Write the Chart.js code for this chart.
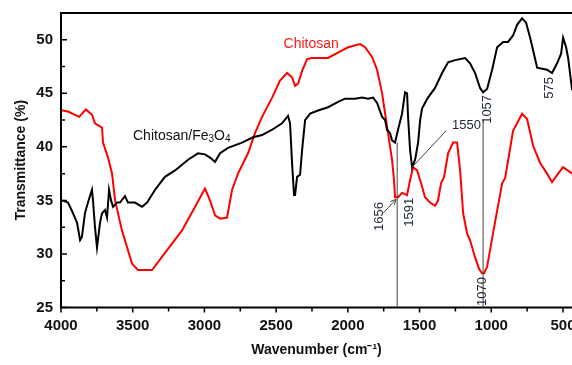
<!DOCTYPE html>
<html>
<head>
<meta charset="utf-8">
<script src="https://cdn.jsdelivr.net/npm/chart.js@4.4.0/dist/chart.umd.min.js"></script>
<style>
    html, body { margin: 0; padding: 0; background: #fff; }
</style>
</head>
<body>
<canvas id="ftirChart" width="572" height="365"></canvas>
<script>
"use strict";

// FTIR spectra (wavenumber in cm-1, transmittance in %)
const chitosanWn = [4000, 3993, 3951, 3874, 3826, 3784, 3763, 3714, 3707, 3672, 3644, 3623, 3575, 3505, 3463, 3365, 3275, 3156, 3065, 2996,
    2961, 2926, 2891, 2842, 2807, 2766, 2696, 2647, 2598, 2528, 2473, 2424, 2389, 2368, 2347, 2319, 2284, 2250, 2138, 2040,
    1998, 1915, 1880, 1831, 1796, 1761, 1740, 1720, 1692, 1678, 1671, 1650, 1622, 1587, 1566, 1545, 1517, 1489, 1462, 1427,
    1392, 1371, 1350, 1329, 1301, 1266, 1238, 1217, 1196, 1168, 1148, 1113, 1085, 1064, 1050, 1029, 980, 924, 903, 848,
    785, 750, 708, 659, 611, 576, 534, 499, 436];
const chitosanT = [43.6, 43.4, 43.3, 42.8, 43.5, 43.0, 42.2, 41.8, 40.4, 39.0, 37.5, 35.0, 32.2, 29.1, 28.5, 28.5, 30.1, 32.2, 34.4, 36.1,
    35.0, 33.6, 33.3, 33.4, 36.0, 37.5, 39.4, 41.3, 42.8, 44.6, 46.2, 46.9, 46.5, 45.7, 45.9, 47.1, 48.2, 48.3, 48.3, 49.0,
    49.3, 49.6, 49.3, 48.4, 47.2, 45.0, 43.1, 41.3, 38.8, 36.9, 35.3, 35.3, 35.7, 35.5, 36.9, 38.1, 37.8, 36.6, 35.3, 34.8,
    34.5, 35.0, 36.6, 37.2, 39.4, 40.4, 40.4, 37.8, 33.8, 31.9, 31.3, 29.7, 28.6, 28.2, 28.2, 28.8, 32.5, 36.6, 37.1, 41.5,
    43.1, 42.6, 40.1, 38.5, 37.5, 36.7, 37.5, 38.1, 37.5];

const compositeWn = [4000, 3993, 3951, 3916, 3888, 3867, 3854, 3833, 3812, 3784, 3777, 3763, 3749, 3728, 3714, 3693, 3679, 3665, 3651, 3637,
    3609, 3589, 3554, 3533, 3484, 3435, 3400, 3344, 3275, 3205, 3114, 3045, 2996, 2961, 2926, 2891, 2835, 2738, 2661, 2598,
    2528, 2459, 2417, 2403, 2389, 2375, 2368, 2354, 2333, 2319, 2298, 2263, 2208, 2138, 2068, 2019, 1950, 1901, 1859, 1824,
    1796, 1761, 1740, 1727, 1706, 1692, 1671, 1650, 1622, 1601, 1587, 1580, 1566, 1552, 1531, 1510, 1496, 1482, 1462, 1441,
    1392, 1343, 1301, 1252, 1182, 1148, 1113, 1078, 1057, 1029, 994, 959, 917, 883, 848, 820, 785, 757, 729, 708,
    680, 645, 611, 576, 541, 513, 499, 478, 464, 436];
const compositeT = [35.0, 35.0, 34.8, 33.8, 32.9, 31.3, 31.6, 33.8, 34.8, 36.0, 35.0, 32.5, 30.6, 32.9, 33.8, 34.1, 33.4, 36.0, 35.0, 34.4,
    34.8, 34.8, 35.4, 34.8, 34.8, 34.4, 34.8, 36.0, 37.2, 37.8, 38.8, 39.4, 39.3, 39.0, 38.6, 39.4, 39.9, 40.4, 40.9, 41.1,
    41.6, 42.2, 42.9, 42.2, 38.5, 35.5, 35.5, 37.2, 37.4, 39.7, 42.5, 43.1, 43.4, 43.7, 44.2, 44.5, 44.5, 44.6, 44.5, 44.6,
    44.1, 42.8, 42.5, 41.6, 41.3, 40.6, 40.4, 41.6, 43.1, 45.1, 45.0, 42.8, 39.7, 38.1, 38.8, 40.4, 42.5, 43.6, 44.1, 44.6,
    45.5, 46.9, 47.9, 48.1, 48.3, 47.8, 46.9, 45.5, 45.1, 45.4, 47.2, 49.3, 49.8, 49.8, 50.4, 51.4, 52.0, 51.6, 50.2, 49.0,
    47.4, 47.3, 47.2, 46.9, 47.8, 48.7, 50.2, 49.3, 48.3, 45.3];

const xTicks = [4000, 3500, 3000, 2500, 2000, 1500, 1000, 500];
const xMinorTicks = [3750, 3250, 2750, 2250, 1750, 1250, 750];
const yTicks = [25, 30, 35, 40, 45, 50];
const yMinorTicks = [27.5, 32.5, 37.5, 42.5, 47.5];

// peak labels: text, wavenumber, transmittance, rotated
const peakLabels = [
    ["1656", 1782, 33.5, true],
    ["1591", 1573, 33.9, true],
    ["1057", 1029, 43.5, true],
    ["1070", 1064, 26.5, true],
    ["575", 597, 45.5, true],
    ["1550", 1273, 42.0, false],
];
// marker lines: [wn1, t1, wn2, t2, arrowHead]
const peakLines = [
    [1656, 25, 1656, 40.4, false],
    [1057, 25, 1057, 42.4, false],
    [1552, 38.1, 1315, 41.5, false],
    [1754, 33.8, 1664, 35.1, true],
];

const ctx = document.getElementById("ftirChart");

function toXY(xs, ys) {
    return xs.map((x, i) => ({ x: x, y: ys[i] }));
}

const decorPlugin = {
    id: "decor",
    afterDatasetsDraw(chart) {
        const c = chart.ctx;
        const xs = chart.scales.x;
        const ys = chart.scales.y;
        const area = chart.chartArea;

        // frame
        c.save();
        c.strokeStyle = "#000";
        c.lineWidth = 2;
        c.beginPath();
        c.moveTo(area.left, area.top);
        c.lineTo(area.right, area.top);
        c.moveTo(area.left, area.top - 1);
        c.lineTo(area.left, area.bottom);
        c.lineTo(area.right, area.bottom);
        c.stroke();

        // x ticks point outward, y ticks inward
        c.lineWidth = 1.5;
        c.beginPath();
        xTicks.forEach((v) => {
            const px = xs.getPixelForValue(v);
            c.moveTo(px, area.bottom);
            c.lineTo(px, area.bottom + 5);
        });
        xMinorTicks.forEach((v) => {
            const px = xs.getPixelForValue(v);
            c.moveTo(px, area.bottom);
            c.lineTo(px, area.bottom + 4);
        });
        yTicks.forEach((v) => {
            const py = ys.getPixelForValue(v);
            c.moveTo(area.left, py);
            c.lineTo(area.left + 6, py);
        });
        yMinorTicks.forEach((v) => {
            const py = ys.getPixelForValue(v);
            c.moveTo(area.left, py);
            c.lineTo(area.left + 4, py);
        });
        c.stroke();

        // peak marker lines
        c.strokeStyle = "#444";
        c.fillStyle = "#444";
        c.lineWidth = 1;
        peakLines.forEach(([w1, t1, w2, t2, head]) => {
            const x1 = xs.getPixelForValue(w1), y1 = ys.getPixelForValue(t1);
            const x2 = xs.getPixelForValue(w2), y2 = ys.getPixelForValue(t2);
            c.beginPath();
            c.moveTo(x1, y1);
            c.lineTo(x2, y2);
            c.stroke();
            if (head) {
                const a = Math.atan2(y2 - y1, x2 - x1);
                c.beginPath();
                c.moveTo(x2, y2);
                c.lineTo(x2 - 6 * Math.cos(a - 0.45), y2 - 6 * Math.sin(a - 0.45));
                c.moveTo(x2, y2);
                c.lineTo(x2 - 6 * Math.cos(a + 0.45), y2 - 6 * Math.sin(a + 0.45));
                c.stroke();
            }
        });

        // peak labels
        c.fillStyle = "#1d2636";
        c.font = "13px 'Liberation Sans', Arial, sans-serif";
        c.textBaseline = "middle";
        peakLabels.forEach(([txt, w, t, rot]) => {
            const px = xs.getPixelForValue(w);
            const py = ys.getPixelForValue(t);
            c.save();
            c.translate(px, py);
            if (rot) {
                c.rotate(-Math.PI / 2);
                c.textAlign = "center";
            } else {
                c.textAlign = "left";
            }
            c.fillText(txt, 0, 0);
            c.restore();
        });

        // curve names
        c.textAlign = "left";
        c.font = "14px 'Liberation Sans', Arial, sans-serif";
        c.fillStyle = "#ff1a1a";
        c.fillText("Chitosan", xs.getPixelForValue(2448), ys.getPixelForValue(49.6));

        let px = xs.getPixelForValue(3498);
        const py = ys.getPixelForValue(41.0);
        c.fillStyle = "#111";
        const parts = [["Chitosan/Fe", 14, 0], ["3", 10, 3], ["O", 14, 0], ["4", 10, 3]];
        parts.forEach(([s, size, dy]) => {
            c.font = size + "px 'Liberation Sans', Arial, sans-serif";
            c.fillText(s, px, py + dy);
            px += c.measureText(s).width;
        });
        c.restore();
    },
};

const ftirChart = new Chart(ctx, {
    type: "scatter",
    data: {
        datasets: [
            {
                label: "Chitosan/Fe3O4",
                data: toXY(compositeWn, compositeT),
                showLine: true,
                borderColor: "#000",
                borderWidth: 2,
                pointRadius: 0,
                tension: 0,
            },
            {
                label: "Chitosan",
                data: toXY(chitosanWn, chitosanT),
                showLine: true,
                borderColor: "#ff0000",
                borderWidth: 2,
                pointRadius: 0,
                tension: 0,
            },
        ],
    },
    options: {
        responsive: false,
        animation: false,
        devicePixelRatio: 1,
        layout: {
            padding: { top: 13, right: 0, left: 0, bottom: 0 },
        },
        plugins: {
            legend: { display: false },
            tooltip: { enabled: false },
        },
        scales: {
            x: {
                type: "linear",
                reverse: true,
                min: 437,
                max: 4000,
                afterBuildTicks: (s) => {
                    s.ticks = xTicks.map((v) => ({ value: v }));
                },
                afterFit: (s) => {
                    s.height = 57.5;
                    s.paddingLeft = 0;
                    s.paddingRight = 0;
                },
                border: { display: false },
                grid: { drawOnChartArea: false, drawTicks: false },
                ticks: {
                    autoSkip: false,
                    maxRotation: 0,
                    padding: 9,
                    color: "#111",
                    callback: (v) => String(v),
                    font: { family: "'Liberation Sans', Arial, sans-serif", size: 15, weight: "bold" },
                },
                title: {
                    display: true,
                    text: "Wavenumber (cm\u207B\u00B9)",
                    color: "#111",
                    padding: { top: 0, bottom: 6 },
                    font: { family: "'Liberation Sans', Arial, sans-serif", size: 14, weight: "bold" },
                },
            },
            y: {
                type: "linear",
                min: 25,
                max: 52.5,
                afterBuildTicks: (s) => {
                    s.ticks = yTicks.map((v) => ({ value: v }));
                },
                afterFit: (s) => {
                    s.width = 61;
                    s.paddingTop = 0;
                    s.paddingBottom = 0;
                },
                border: { display: false },
                grid: { drawOnChartArea: false, drawTicks: false },
                ticks: {
                    padding: 8,
                    color: "#111",
                    font: { family: "'Liberation Sans', Arial, sans-serif", size: 15, weight: "bold" },
                },
                title: {
                    display: true,
                    text: "Transmittance (%)",
                    color: "#111",
                    padding: { top: 13, bottom: 0 },
                    font: { family: "'Liberation Sans', Arial, sans-serif", size: 14, weight: "bold" },
                },
            },
        },
    },
    plugins: [decorPlugin],
});
</script>
</body>
</html>
